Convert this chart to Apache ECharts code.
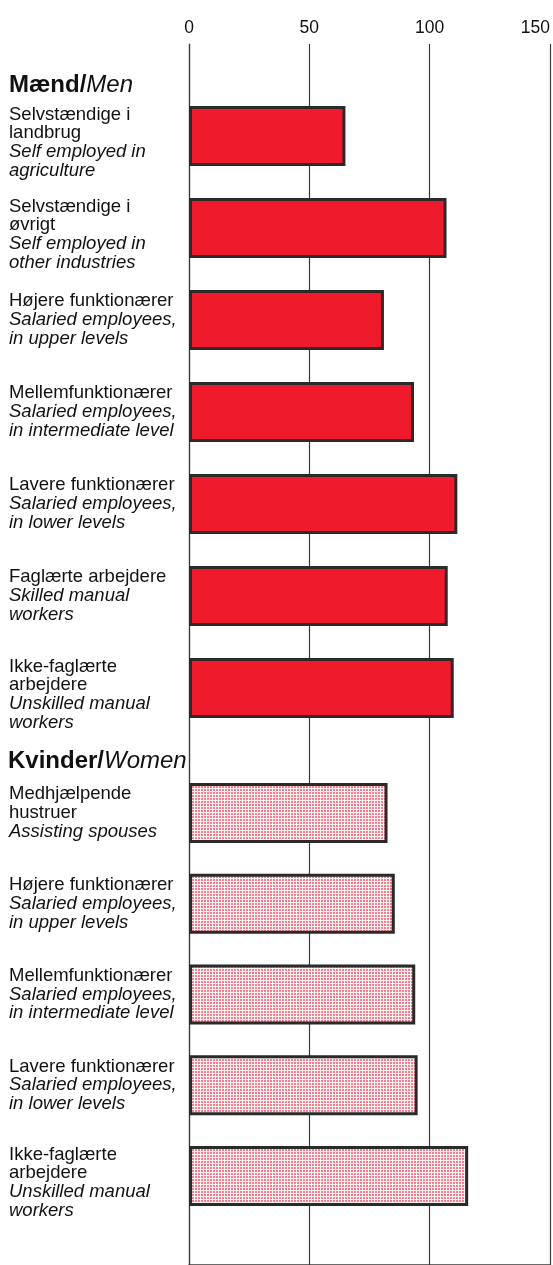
<!DOCTYPE html>
<html>
<head>
<meta charset="utf-8">
<title>Mænd / Kvinder</title>
<script src="https://cdn.jsdelivr.net/npm/echarts@6.0.0/dist/echarts.min.js"></script>
<style>
    html, body { margin: 0; padding: 0; background: #fff; }
    #main { width: 553px; height: 1265px; }
</style>
</head>
<body>
<div id="main"></div>
<script>
// akse
var ticks = [0, 50, 100, 150];

// overskrifter for de to grupper
var groupTitles = [['Mænd/', 'Men'], ['Kvinder/', 'Women']];

// Mænd / Men
var menDanish = [
    ['Selvstændige i', 'landbrug'],
    ['Selvstændige i', 'øvrigt'],
    ['Højere funktionærer'],
    ['Mellemfunktionærer'],
    ['Lavere funktionærer'],
    ['Faglærte arbejdere'],
    ['Ikke-faglærte', 'arbejdere']
];
var menEnglish = [
    ['Self employed in', 'agriculture'],
    ['Self employed in', 'other industries'],
    ['Salaried employees,', 'in upper levels'],
    ['Salaried employees,', 'in intermediate level'],
    ['Salaried employees,', 'in lower levels'],
    ['Skilled manual', 'workers'],
    ['Unskilled manual', 'workers']
];
var menValues = [65, 107, 81, 93.5, 111.5, 107.5, 110];

// Kvinder / Women
var womenDanish = [
    ['Medhjælpende', 'hustruer'],
    ['Højere funktionærer'],
    ['Mellemfunktionærer'],
    ['Lavere funktionærer'],
    ['Ikke-faglærte', 'arbejdere']
];
var womenEnglish = [
    ['Assisting spouses'],
    ['Salaried employees,', 'in upper levels'],
    ['Salaried employees,', 'in intermediate level'],
    ['Salaried employees,', 'in lower levels'],
    ['Unskilled manual', 'workers']
];
var womenValues = [82.5, 85.5, 94, 95, 116];


var FONT = '"Liberation Sans", Arial, Helvetica, sans-serif';
var LINE = '#3a3a3a';

// prikket mønster til kvindernes søjler
function dotPattern() {
    var c = document.createElement('canvas');
    c.width = 3;
    c.height = 3;
    var ctx = c.getContext('2d');
    ctx.fillStyle = '#fff0f2';
    ctx.fillRect(0, 0, 3, 3);
    ctx.fillStyle = '#f3808f';
    ctx.fillRect(0, 0, 2, 2);
    return c;
}

// etiket: dansk (normal) + engelsk (kursiv)
function labelText(danish, english) {
    var lines = [];
    // 4-linjers etiketter sidder lidt lavere i originalen
    if (danish.length + english.length > 3) lines.push('{sp| }');
    for (var i = 0; i < danish.length; i++) lines.push('{d|' + danish[i] + '}');
    for (var j = 0; j < english.length; j++) lines.push('{e|' + english[j] + '}');
    return lines.join('\n');
}

var labelRich = {
    sp: { fontSize: 6, lineHeight: 13 },
    d: { fontFamily: FONT, fontSize: 18.5, lineHeight: 18.7, color: '#111' },
    e: { fontFamily: FONT, fontSize: 18.5, lineHeight: 18.7, color: '#111', fontStyle: 'italic' }
};

function groupAxis(gridIndex, danish, english) {
    return {
        type: 'category',
        gridIndex: gridIndex,
        inverse: true,
        data: danish.map(function (d) { return d.join(' '); }),
        axisLine: { show: false },
        axisTick: { show: false },
        axisLabel: {
            interval: 0,
            align: 'left',
            margin: 180,
            formatter: function (value, index) {
                return labelText(danish[index], english[index]);
            },
            rich: labelRich
        }
    };
}

function hiddenX(gridIndex) {
    return {
        type: 'value',
        gridIndex: gridIndex,
        min: ticks[0],
        max: ticks[ticks.length - 1],
        show: false
    };
}

function titleText(t) {
    return '{b|' + t[0] + '}{i|' + t[1] + '}';
}
var titleRich = {
    b: { fontFamily: FONT, fontSize: 24, fontWeight: 'bold', color: '#111' },
    i: { fontFamily: FONT, fontSize: 24, fontWeight: 'normal', fontStyle: 'italic', color: '#111' }
};

var chart = document.getElementById('main');
var myChart = echarts.init(chart, null, { renderer: 'canvas' });

function loadingOption() {
    var option = {
        backgroundColor: '#ffffff',
        animation: false,
        title: [{
            text: titleText(groupTitles[0]),
            left: 9,
            top: 73,
            padding: 0,
            textStyle: { rich: titleRich }
        }, {
            text: titleText(groupTitles[1]),
            left: 8,
            top: 749,
            padding: 0,
            textStyle: { rich: titleRich }
        }],
        grid: [
            { left: 189, right: 3, top: 44, bottom: 0 },      // akse + gitterlinjer
            { left: 189, right: 3, top: 90, height: 644 },     // mænd
            { left: 189, right: 3, top: 767.5, height: 454 }   // kvinder
        ],
        xAxis: [{
            type: 'value',
            gridIndex: 0,
            position: 'top',
            min: ticks[0],
            max: ticks[ticks.length - 1],
            interval: ticks[1] - ticks[0],
            axisLine: { show: true, lineStyle: { color: LINE, width: 1.5 } },
            axisTick: { show: false },
            axisLabel: {
                margin: 7,
                fontFamily: FONT,
                fontSize: 17.5,
                color: '#111',
                alignMaxLabel: 'right'
            },
            splitLine: { show: true, lineStyle: { color: LINE, width: 1.2 } }
        }, hiddenX(1), hiddenX(2)],
        yAxis: [{
            type: 'value',
            gridIndex: 0,
            min: 0,
            max: 1,
            axisLabel: { show: false },
            axisTick: { show: false },
            splitLine: { show: false },
            axisLine: { show: true, lineStyle: { color: LINE, width: 1.2 } }
        },
            groupAxis(1, menDanish, menEnglish),
            groupAxis(2, womenDanish, womenEnglish)
        ],
        series: [{
            name: 'Mænd',
            type: 'bar',
            xAxisIndex: 1,
            yAxisIndex: 1,
            barWidth: 60,
            data: menValues,
            itemStyle: {
                color: '#ef1a2c',
                borderColor: '#2a2a2a',
                borderWidth: 3
            }
        }, {
            name: 'Kvinder',
            type: 'bar',
            xAxisIndex: 2,
            yAxisIndex: 2,
            barWidth: 60,
            data: womenValues,
            itemStyle: {
                color: { image: dotPattern(), repeat: 'repeat' },
                borderColor: '#2a2a2a',
                borderWidth: 3
            }
        }]
    };
    return option;
}

myChart.setOption(loadingOption());
</script>
</body>
</html>
